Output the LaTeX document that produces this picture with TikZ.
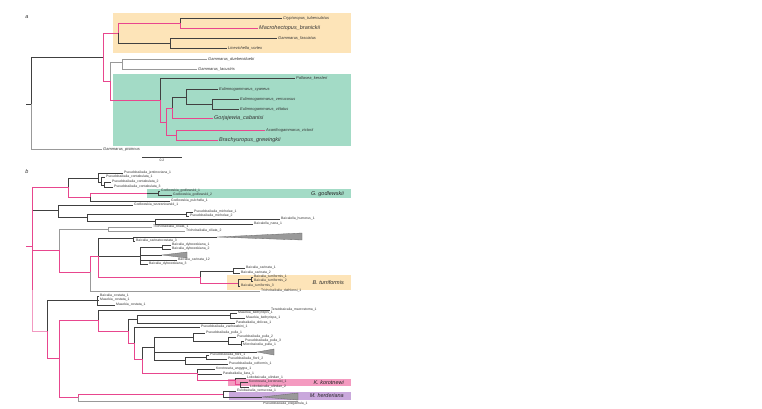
\documentclass[tikz,border=0pt]{standalone}
\usepackage{fontspec}
\setmainfont{Liberation Sans}
\definecolor{tpink}{HTML}{E8468E}
\definecolor{torange}{HTML}{FDE4B8}
\definecolor{tgreen}{HTML}{A3DBC6}
\definecolor{tkor}{HTML}{F49AC0}
\definecolor{therd}{HTML}{C9A8DC}
\begin{document}
\begin{tikzpicture}[x=1pt,y=-1pt,
  blk/.style={draw=black!75,line width=0.55pt},
  gry/.style={draw=black!40,line width=0.55pt},
  pnk/.style={draw=tpink,line width=0.7pt},
  lpnk/.style={draw=tpink!55,line width=0.7pt},
  lab/.style={anchor=west,inner sep=0pt,inner xsep=1pt,text=black!80,font=\fontsize{4}{4}\selectfont\itshape},
  labbig/.style={lab,font=\fontsize{5.5}{5.5}\selectfont\itshape},
  labsm/.style={anchor=west,inner sep=0pt,inner xsep=1pt,text=black!80,font=\fontsize{3.4}{3.4}\selectfont},
  clade/.style={anchor=east,inner sep=0pt,text=black!85,font=\fontsize{5.5}{5.5}\selectfont\itshape},
  panel/.style={inner sep=0pt,text=black!80,font=\fontsize{5.5}{5.5}\selectfont\itshape},
  tri/.style={fill=black!40,draw=black!60,line width=0.3pt}]
\useasboundingbox (0,0) rectangle (762,408);
\fill[torange] (113,13) rectangle (351,53);
\fill[tgreen] (113,74) rectangle (351,146);
\fill[tgreen] (147,189) rectangle (351,198);
\fill[torange] (227,275) rectangle (351,290);
\fill[tkor] (228,379) rectangle (351,386);
\fill[therd] (229,392) rectangle (351,400);
\node[panel] (pa) at (27,17) {a};
\node[panel] (pb) at (27,172) {b};
\coordinate (aS) at (26,104);
\coordinate (aR) at (31,104);
\coordinate (aN1) at (103,57);
\coordinate (aN2) at (118,33);
\coordinate (aN3) at (110,81);
\coordinate (aN4) at (180,23);
\coordinate (aN5) at (170,43);
\coordinate (aN6) at (122,62);
\coordinate (aN7) at (160,100);
\coordinate (aN8) at (166,122);
\coordinate (aN9) at (172,108);
\coordinate (aN10) at (176,135);
\coordinate (aN11) at (186,97);
\coordinate (aN12) at (212,104);
\node[lab] (aCry) at (282,18) {Cryptoropus\_tuberculatus};
\node[labbig] (aMac) at (258,28) {Macrohectopus\_branickii};
\node[lab] (aGfa) at (277,38) {Gammarus\_fasciatus};
\node[lab] (aLin) at (227,48) {Linevichella\_vortex};
\node[lab] (aGdu) at (207,59) {Gammarus\_duebeniduebi};
\node[lab] (aGla) at (197,69) {Gammarus\_lacustris};
\node[lab] (aPal) at (295,78) {Pallasea\_kessleri};
\node[lab] (aEcy) at (218,89) {Eulimnogammarus\_cyaneus};
\node[lab] (aEve) at (239,99) {Eulimnogammarus\_verrucosus};
\node[lab] (aEvi) at (239,109) {Eulimnogammarus\_vittatus};
\node[labbig] (aGor) at (213,118) {Gorjajewia\_cabanisi};
\node[lab] (aAca) at (265,130) {Acanthogammarus\_victorii};
\node[labbig] (aBra) at (218,140) {Brachyuropus\_grewingkii};
\node[lab] (aPis) at (102,149) {Gammarus\_pisinnus};
\draw[blk] (aS) -- (aR);
\draw[gry] (aR) |- (aPis.west);
\draw[blk] (aR) |- (aN1);
\draw[blk] (aN2) |- (aN5);
\draw[blk] (aN4) |- (aCry.west);
\draw[blk] (aN5) |- (aGfa.west);
\draw[blk] (aN5) |- (aLin.west);
\draw[gry] (aN3) |- (aN6);
\draw[gry] (aN6) |- (aGdu.west);
\draw[gry] (aN6) |- (aGla.west);
\draw[blk] (aN7) |- (aPal.west);
\draw[blk] (aN9) |- (aN11);
\draw[blk] (aN11) |- (aEcy.west);
\draw[blk] (aN11) |- (aN12);
\draw[blk] (aN12) |- (aEve.west);
\draw[blk] (aN12) |- (aEvi.west);
\draw[pnk] (aN1) |- (aN2);
\draw[pnk] (aN1) |- (aN3);
\draw[pnk] (aN2) |- (aN4);
\draw[pnk] (aN4) |- (aMac.west);
\draw[pnk] (aN3) |- (aN7);
\draw[pnk] (aN7) |- (aN8);
\draw[pnk] (aN8) |- (aN9);
\draw[pnk] (aN8) |- (aN10);
\draw[pnk] (aN9) |- (aGor.west);
\draw[pnk] (aN10) |- (aAca.west);
\draw[pnk] (aN10) |- (aBra.west);
\coordinate (sL) at (142,157);
\coordinate (sR) at (182,157);
\draw[blk] (sL) -- (sR);
\node[labsm,anchor=north] (sc) at (162,159) {0.2};
\coordinate (bS) at (26,246);
\coordinate (bR) at (32,246);
\coordinate (bRm) at (32,290);
\coordinate (bA) at (68,187);
\coordinate (bA1) at (98,178);
\coordinate (bA3) at (101,182);
\coordinate (bA4) at (104,185);
\coordinate (bA2) at (90,197);
\coordinate (bGin) at (147,193);
\coordinate (bG) at (158,193);
\coordinate (bB) at (58,210);
\coordinate (bB1) at (87,217);
\coordinate (bB2) at (186,214);
\coordinate (bB3) at (155,221);
\coordinate (bC) at (59,250);
\coordinate (bT) at (108,229);
\coordinate (bC1) at (90,272);
\coordinate (bC2) at (98,256);
\coordinate (bC3) at (133,238);
\coordinate (bC4) at (140,256);
\coordinate (bC6) at (162,247);
\coordinate (bC5) at (200,277);
\coordinate (bC7) at (233,271);
\coordinate (bC8) at (238,283);
\coordinate (bC9) at (251,279);
\coordinate (bD) at (47,331);
\coordinate (bD1) at (97,300);
\coordinate (bD2) at (59,358);
\coordinate (bE) at (98,320);
\coordinate (bE1) at (128,331);
\coordinate (bE2) at (137,319);
\coordinate (bE4) at (230,315);
\coordinate (bE3) at (134,343);
\coordinate (bE5) at (142,359);
\coordinate (bE6) at (154,347);
\coordinate (bE8) at (193,337);
\coordinate (bE10) at (228,341);
\coordinate (bE11) at (241,344);
\coordinate (bE9) at (185,360);
\coordinate (bE12) at (206,357);
\coordinate (bE7) at (197,373);
\coordinate (bE13) at (235,380);
\coordinate (bE14) at (240,384);
\coordinate (bF) at (78,397);
\coordinate (bF1) at (223,394);
\coordinate (bEl) at (298,401);
\coordinate (t1) at (217,237);
\coordinate (t2) at (162,255);
\coordinate (t3) at (257,352);
\coordinate (t4) at (262,397);
\node[labsm] (bJen) at (123,173) {Pseudobaikalia\_jentinoviana\_1};
\node[labsm] (bCo1) at (105,177) {Pseudobaikalia\_contabulata\_1};
\node[labsm] (bCo2) at (111,182) {Pseudobaikalia\_contabulata\_2};
\node[labsm] (bCo3) at (113,187) {Pseudobaikalia\_contabulata\_3};
\node[labsm] (bGo1) at (160,191) {Godlewskia\_godlewskii\_1};
\node[labsm] (bGo2) at (172,195) {Godlewskia\_godlewskii\_2};
\node[labsm] (bGpu) at (170,201) {Godlewskia\_pulchella\_1};
\node[labsm] (bGwr) at (133,205) {Godlewskia\_wrzesniowskii\_1};
\node[labsm] (bMi1) at (193,212) {Pseudobaikalia\_michelae\_1};
\node[labsm] (bMi2) at (189,216) {Pseudobaikalia\_michelae\_2};
\node[labsm] (bHum) at (280,219) {Baicalella\_humerus\_1};
\node[labsm] (bNan) at (253,224) {Baicalella\_nana\_1};
\node[labsm] (bCi1) at (152,227) {Trichobaikalia\_ciliata\_1};
\node[labsm] (bCi2) at (185,231) {Trichobaikalia\_ciliata\_2};
\node[labsm] (bCc3) at (135,241) {Baicalia\_carinatocostata\_3};
\node[labsm] (bDy1) at (171,245) {Baicalia\_dybowskiana\_1};
\node[labsm] (bDy2) at (171,249) {Baicalia\_dybowskiana\_2};
\node[labsm] (bC12) at (177,260) {Baicalia\_carinata\_12};
\node[labsm] (bDy3) at (148,264) {Baicalia\_dybowskiana\_3};
\node[labsm] (bCa1) at (245,268) {Baicalia\_carinata\_1};
\node[labsm] (bCa2) at (240,273) {Baicalia\_carinata\_2};
\node[labsm] (bTu1) at (253,277) {Baicalia\_turriformis\_1};
\node[labsm] (bTu2) at (253,281) {Baicalia\_turriformis\_2};
\node[labsm] (bTu3) at (240,286) {Baicalia\_turriformis\_3};
\node[labsm] (bDat) at (260,291) {Trichobaikalia\_dathlensi\_1};
\node[labsm] (bBc1) at (99,296) {Baicalia\_costata\_1};
\node[labsm] (bMc1) at (99,300) {Maackia\_costata\_1};
\node[labsm] (bMc2) at (115,305) {Maackia\_costata\_1};
\node[labsm] (bMac) at (270,310) {Teratobaicalia\_macrostoma\_1};
\node[labsm] (bBa1) at (237,313) {Maackia\_bathyrispis\_1};
\node[labsm] (bBa2) at (245,318) {Maackia\_bathyrispa\_1};
\node[labsm] (bDol) at (235,323) {Parabaikalia\_dolicea\_1};
\node[labsm] (bZac) at (200,327) {Pseudobaikalia\_zachwatkini\_1};
\node[labsm] (bPu1) at (205,333) {Pseudobaikalia\_pulla\_1};
\node[labsm] (bPu2) at (236,337) {Pseudobaikalia\_pulla\_2};
\node[labsm] (bPu3) at (244,341) {Pseudobaikalia\_pulla\_3};
\node[labsm] (bMpu) at (242,345) {Microbaicalia\_pulla\_1};
\node[labsm] (bFl1) at (209,355) {Pseudobaikalia\_florii\_1};
\node[labsm] (bFl2) at (227,359) {Pseudobaikalia\_florii\_2};
\node[labsm] (bOvi) at (228,364) {Pseudobaikalia\_oviformis\_1};
\node[labsm] (bKan) at (215,369) {Korotnewia\_angygra\_1};
\node[labsm] (bIla) at (222,374) {Parabaikalia\_ilara\_1};
\node[labsm] (bUl1) at (246,378) {Lobobaicalia\_ulindan\_1};
\node[labsm] (bKko) at (248,382) {Korotnewia\_korotnewi\_1};
\node[labsm] (bUl2) at (249,387) {Lobobaicalia\_ulindan\_2};
\node[labsm] (bVer) at (236,391) {Eulobaicalia\_verrucosa\_1};
\node[labsm,anchor=north west] (bEle) at (262,402) {Pseudobaikalia\_elegantula\_1};
\node[clade] (cGod) at (344,194) {G. godlewskii};
\node[clade] (cTur) at (344,283) {B. turriformis};
\node[clade] (cKor) at (344,382.5) {K. korotnewi};
\node[clade] (cHer) at (344,396) {M. herderiana};
\draw[blk] (bR) |- (bB);
\draw[blk] (bA) |- (bA1);
\draw[blk] (bA1) |- (bJen.west);
\draw[blk] (bA1) |- (bA3);
\draw[blk] (bA3) |- (bCo1.west);
\draw[blk] (bA3) |- (bA4);
\draw[blk] (bA4) |- (bCo2.west);
\draw[blk] (bA4) |- (bCo3.west);
\draw[blk] (bGin) -- (bG);
\draw[blk] (bG) |- (bGo1.west);
\draw[blk] (bG) |- (bGo2.west);
\draw[blk] (bA2) |- (bGpu.west);
\draw[blk] (bB) |- (bGwr.west);
\draw[blk] (bB) |- (bB1);
\draw[blk] (bB1) |- (bB2);
\draw[blk] (bB1) |- (bB3);
\draw[blk] (bB2) |- (bMi1.west);
\draw[blk] (bB2) |- (bMi2.west);
\draw[blk] (bB3) |- (bHum.west);
\draw[blk] (bB3) |- (bNan.west);
\draw[gry] (bC) |- (bT);
\draw[gry] (bT) |- (bCi1.west);
\draw[gry] (bT) |- (bCi2.west);
\draw[gry] (bC1) |- (bDat.west);
\draw[blk] (bC2) |- (bC3);
\draw[blk] (bC2) |- (bC4);
\draw[blk] (bC3) |- (t1);
\draw[blk] (bC3) |- (bCc3.west);
\draw[blk] (bC4) |- (bC6);
\draw[blk] (bC4) |- (t2);
\draw[blk] (bC4) |- (bC12.west);
\draw[blk] (bC4) |- (bDy3.west);
\draw[blk] (bC6) |- (bDy1.west);
\draw[blk] (bC6) |- (bDy2.west);
\draw[blk] (bC5) |- (bC7);
\draw[blk] (bC7) |- (bCa1.west);
\draw[blk] (bC7) |- (bCa2.west);
\draw[blk] (bC8) |- (bC9);
\draw[blk] (bC8) |- (bTu3.west);
\draw[blk] (bC9) |- (bTu1.west);
\draw[blk] (bC9) |- (bTu2.west);
\draw[blk] (bD) |- (bD1);
\draw[blk] (bD1) |- (bBc1.west);
\draw[blk] (bD1) |- (bMc1.west);
\draw[blk] (bD1) |- (bMc2.west);
\draw[blk] (bE) |- (bMac.west);
\draw[blk] (bE1) |- (bE2);
\draw[blk] (bE2) |- (bE4);
\draw[blk] (bE2) |- (bDol.west);
\draw[blk] (bE4) |- (bBa1.west);
\draw[blk] (bE4) |- (bBa2.west);
\draw[blk] (bE3) |- (bZac.west);
\draw[blk] (bE5) |- (bE6);
\draw[blk] (bE6) |- (bE8);
\draw[blk] (bE6) |- (t3);
\draw[blk] (bE6) |- (bE9);
\draw[blk] (bE8) |- (bPu1.west);
\draw[blk] (bE8) |- (bE10);
\draw[blk] (bE10) |- (bPu2.west);
\draw[blk] (bE10) |- (bE11);
\draw[blk] (bE11) |- (bPu3.west);
\draw[blk] (bE11) |- (bMpu.west);
\draw[blk] (bE9) |- (bE12);
\draw[blk] (bE9) |- (bOvi.west);
\draw[blk] (bE12) |- (bFl1.west);
\draw[blk] (bE12) |- (bFl2.west);
\draw[blk] (bE7) |- (bKan.west);
\draw[blk] (bE7) |- (bIla.west);
\draw[blk] (bE13) |- (bUl1.west);
\draw[blk] (bE14) |- (bKko.west);
\draw[blk] (bE14) |- (bUl2.west);
\draw[blk] (bF1) |- (bVer.west);
\draw[blk] (bF1) |- (t4);
\draw[gry,line width=1pt] (bF) |- (bEl);
\filldraw[tri] (t1) -- ++(85,-4) -- ++(0,7) -- cycle;
\filldraw[tri] (t2) -- ++(25,-3) -- ++(0,6) -- cycle;
\filldraw[tri] (t3) -- ++(17,-3) -- ++(0,6) -- cycle;
\filldraw[tri] (t4) -- ++(36,-4) -- ++(0,7) -- cycle;
\draw[lpnk] (bR) |- (bD);
\draw[pnk] (bR) -- (bRm);
\draw[pnk] (bS) -- (bR);
\draw[pnk] (bR) |- (bA);
\draw[pnk] (bR) |- (bC);
\draw[pnk] (bA) |- (bA2);
\draw[pnk] (bA2) |- (bGin);
\draw[pnk] (bC) |- (bC1);
\draw[pnk] (bC1) |- (bC2);
\draw[pnk] (bC2) |- (bC5);
\draw[pnk] (bC5) |- (bC8);
\draw[pnk] (bD) |- (bD2);
\draw[pnk] (bD2) |- (bE);
\draw[pnk] (bD2) |- (bF);
\draw[pnk] (bE) |- (bE1);
\draw[pnk] (bE1) |- (bE3);
\draw[pnk] (bE3) |- (bE5);
\draw[pnk] (bE5) |- (bE7);
\draw[pnk] (bE7) |- (bE13);
\draw[pnk] (bE13) |- (bE14);
\draw[pnk] (bF) |- (bF1);
\end{tikzpicture}
\end{document}
